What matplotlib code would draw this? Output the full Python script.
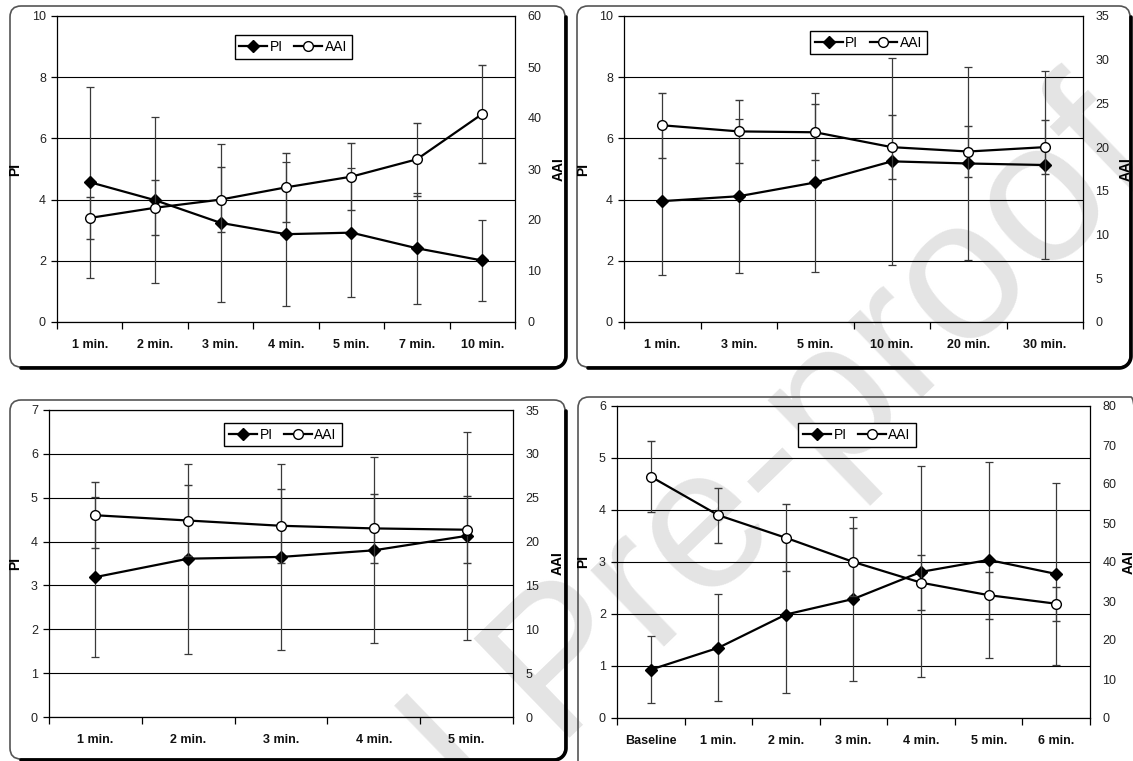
import numpy as np
import matplotlib
matplotlib.use("Agg")
import matplotlib.pyplot as plt
from matplotlib.patches import FancyBboxPatch
from matplotlib.transforms import IdentityTransform
from matplotlib.lines import Line2D

plt.rcParams["font.family"] = ["Liberation Sans", "DejaVu Sans"]

# top-left panel
cats_a = ["1 min.", "2 min.", "3 min.", "4 min.", "5 min.", "7 min.", "10 min."]
pi_a = [4.57, 3.98, 3.24, 2.87, 2.92, 2.41, 2.01]
pi_err_a = [3.12, 2.71, 2.59, 2.35, 2.10, 1.81, 1.31]
aai_a = [20.4, 22.4, 24.0, 26.4, 28.5, 31.9, 40.8]
aai_err_a = [4.1, 5.4, 6.45, 6.75, 6.6, 7.15, 9.6]

# top-right panel
cats_b = ["1 min.", "3 min.", "5 min.", "10 min.", "20 min.", "30 min."]
pi_b = [3.95, 4.11, 4.56, 5.25, 5.18, 5.13]
pi_err_b = [2.40, 2.52, 2.94, 3.38, 3.14, 3.07]
aai_b = [22.5, 21.8, 21.7, 20.0, 19.5, 20.0]
aai_err_b = [3.7, 3.6, 3.2, 3.7, 2.9, 3.05]

# bottom-left panel
cats_c = ["1 min.", "2 min.", "3 min.", "4 min.", "5 min."]
pi_c = [3.19, 3.61, 3.65, 3.80, 4.13]
pi_err_c = [1.82, 2.17, 2.13, 2.12, 2.37]
aai_c = [23.0, 22.4, 21.8, 21.5, 21.35]
aai_err_c = [3.75, 4.07, 4.2, 3.9, 3.8]

# bottom-right panel
cats_d = ["Baseline", "1 min.", "2 min.", "3 min.", "4 min.", "5 min.", "6 min."]
pi_d = [0.93, 1.35, 1.99, 2.29, 2.81, 3.04, 2.77]
pi_err_d = [0.64, 1.03, 1.50, 1.58, 2.03, 1.89, 1.75]
aai_d = [61.9, 52.0, 46.2, 40.0, 34.7, 31.5, 29.3]
aai_err_d = [9.2, 7.1, 8.6, 8.7, 7.0, 6.0, 4.3]

W, H = 1133, 761
fig = plt.figure(figsize=(W / 100, H / 100), dpi=100)
fig.patch.set_facecolor("white")


def px_rect(x0, y0, x1, y1):
    # picture pixels (y down) -> figure fractions
    return [x0 / W, (H - y1) / H, (x1 - x0) / W, (y1 - y0) / H]


def panel_box(x0, y0, x1, y1, r=11):
    bx, by, bw, bh = x0, H - y1, x1 - x0, y1 - y0
    style = f"round,pad=0,rounding_size={r}"
    fig.add_artist(FancyBboxPatch((bx, by), bw, bh, boxstyle=style,
                                  transform=IdentityTransform(),
                                  facecolor="white", edgecolor="none", zorder=-5))
    fig.add_artist(FancyBboxPatch((bx, by), bw, bh, boxstyle=style,
                                  transform=IdentityTransform(),
                                  facecolor="none", edgecolor="#555555",
                                  lw=1.2, zorder=-1))
    # darker shadow edge on the right and bottom
    t = np.linspace(0, -np.pi / 2, 24)
    rr = r + 1
    cx, cy = bx + bw - r, by + r
    xs = np.r_[bx + bw + 1, cx + rr * np.cos(t), bx + r]
    ys = np.r_[by + bh - r, cy + rr * np.sin(t), by - 1]
    fig.add_artist(Line2D(xs, ys, transform=IdentityTransform(), color="black",
                          lw=2.6, zorder=-1, solid_capstyle="round"))


def panel(rect, cats, pi, pi_err, aai, aai_err, pi_max, pi_step,
          aai_max, aai_step, leg_xy, pi_lab_x, aai_lab_x):
    ax = fig.add_axes(px_rect(*rect))
    ax2 = ax.twinx()
    for a in (ax, ax2):
        a.set_facecolor("none")
    n = len(cats)
    x = np.arange(n)

    ax.errorbar(x, pi, yerr=pi_err, fmt="-D", color="black", ms=6, lw=1.6,
                ecolor="#3a3a3a", elinewidth=0.9, capsize=3, capthick=0.9)
    ax2.errorbar(x, aai, yerr=aai_err, fmt="-o", color="black", mfc="white",
                 mec="black", mew=1.0, ms=7, lw=1.6,
                 ecolor="#3a3a3a", elinewidth=0.9, capsize=3, capthick=0.9)

    ax.set_xlim(-0.5, n - 0.5)
    ax.set_ylim(0, pi_max)
    ax.set_yticks(np.arange(0, pi_max + 0.001, pi_step))
    ax2.set_ylim(0, aai_max)
    ax2.set_yticks(np.arange(0, aai_max + 0.001, aai_step))

    ax.set_xticks(x)
    ax.set_xticklabels(cats, fontweight="bold", fontsize=9)
    ax.set_xticks(np.arange(n + 1) - 0.5, minor=True)
    ax.tick_params(axis="x", which="major", length=0, pad=12, colors="#111111")
    ax.tick_params(axis="x", which="minor", length=5, width=0.9, direction="out")
    ax.tick_params(axis="y", length=4, width=0.9, direction="out",
                   labelsize=9, pad=4, labelcolor="#222222")
    ax2.tick_params(axis="y", length=0, pad=9, labelsize=9, labelcolor="#222222")

    ax.grid(axis="y", color="black", lw=0.8)
    ax.set_axisbelow(True)
    for s in ("left", "bottom", "top"):
        ax.spines[s].set_color("black")
        ax.spines[s].set_linewidth(0.9)
    ax.spines["right"].set_visible(False)
    for s in ("left", "bottom", "top"):
        ax2.spines[s].set_visible(False)
    ax2.spines["right"].set_color("black")
    ax2.spines["right"].set_linewidth(0.9)

    ax.set_ylabel("PI", fontweight="bold", fontsize=10)
    ax.yaxis.set_label_coords(pi_lab_x, 0.5)
    ax2.set_ylabel("AAI", fontweight="bold", fontsize=10, rotation=90)
    ax2.yaxis.set_label_coords(aai_lab_x, 0.5)

    handles = [
        Line2D([], [], color="black", marker="D", ms=6, lw=1.6),
        Line2D([], [], color="black", marker="o", ms=7, mfc="white", mew=1.0, lw=1.6),
    ]
    leg = ax2.legend(handles, ["PI", "AAI"], loc="center", bbox_to_anchor=leg_xy,
                     ncol=2, frameon=True, fancybox=False, edgecolor="black",
                     framealpha=1, fontsize=10, handlelength=2.0,
                     handletextpad=0.2, columnspacing=0.8, borderpad=0.35,
                     borderaxespad=0)
    leg.get_frame().set_linewidth(1.0)
    return ax, ax2


panel_box(10, 6, 565, 367)
panel_box(577, 6, 1130, 367)
panel_box(10, 400, 565, 759)
panel_box(578, 397, 1142, 775)

# faint diagonal watermark behind the charts
fig.text(0.50, 0.12, "Journal Pre-proof", fontsize=145, rotation=44,
         color="#e4e4e4", ha="center", va="center", rotation_mode="anchor",
         zorder=-4)

panel((57, 16, 515, 322), cats_a, pi_a, pi_err_a, aai_a, aai_err_a,
      10, 2, 60, 10, (0.516, 0.899), -0.076, 1.079)
panel((624, 16, 1083, 322), cats_b, pi_b, pi_err_b, aai_b, aai_err_b,
      10, 2, 35, 5, (0.533, 0.913), -0.074, 1.078)
panel((49, 410, 513, 717), cats_c, pi_c, pi_err_c, aai_c, aai_err_c,
      7, 1, 35, 5, (0.504, 0.92), -0.058, 1.082)
panel((617, 406, 1090, 718), cats_d, pi_d, pi_err_d, aai_d, aai_err_d,
      6, 1, 80, 10, (0.507, 0.907), -0.057, 1.066)

fig.savefig("out.png", dpi=100)
